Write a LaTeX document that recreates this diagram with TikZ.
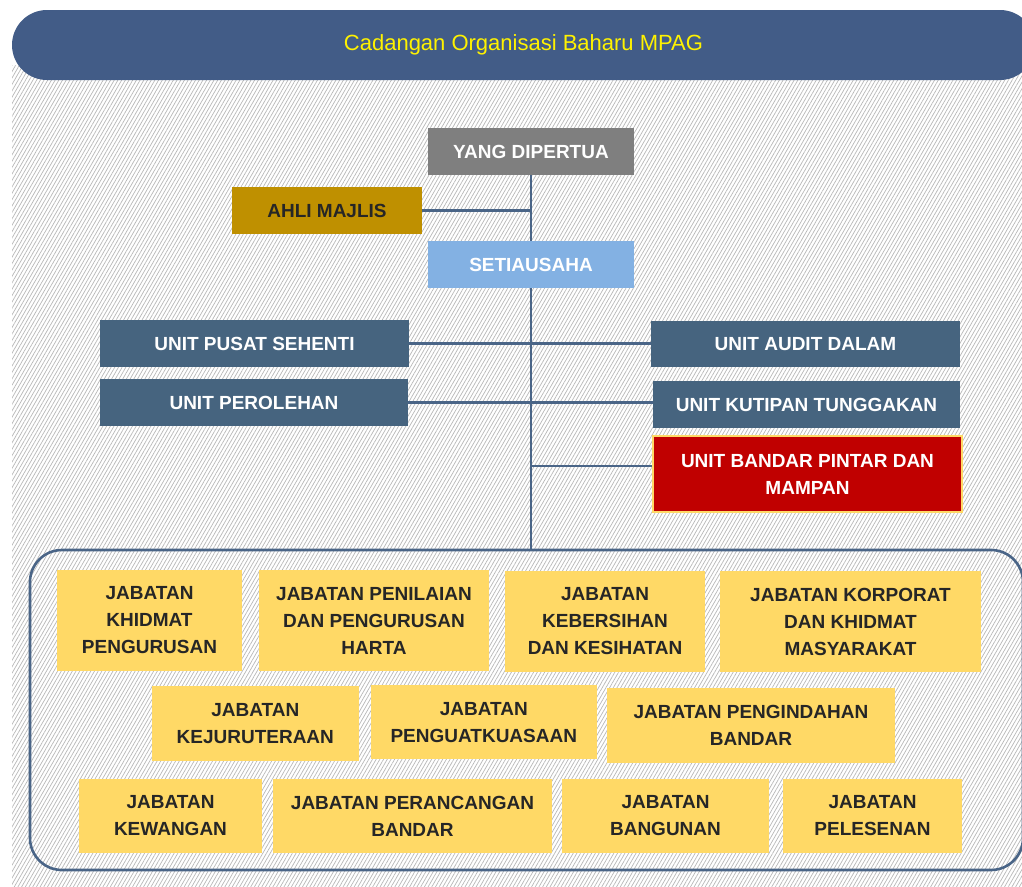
\documentclass[tikz,border=0pt]{standalone}
\usepackage{fontspec}
\setmainfont{Liberation Sans}
\usetikzlibrary{patterns.meta}
\definecolor{barblue}{HTML}{425C87}
\definecolor{unitblue}{HTML}{46647F}
\definecolor{linkblue}{HTML}{4A6587}
\definecolor{headgray}{HTML}{7F7F7F}
\definecolor{gold}{HTML}{BF9000}
\definecolor{sky}{HTML}{83B1E3}
\definecolor{alert}{HTML}{C00000}
\definecolor{sun}{HTML}{FFD966}
\definecolor{ink}{HTML}{262626}
\tikzset{
  box/.style={inner sep=0pt, align=center, font=\fontsize{19}{27}\selectfont\bfseries},
  sz/.style 2 args={minimum width=#1pt, minimum height=#2pt},
  unit/.style={box, fill=unitblue, text=white},
  dept/.style={box, fill=sun, text=ink},
  link/.style={draw=linkblue, line width=2.6pt},
}
\begin{document}
\begin{tikzpicture}[x=1pt, y=-1pt]
  \clip (0,0) rectangle (1022,886);
  \fill[white] (0,0) rectangle (1022,886);
  \fill[pattern={Lines[angle=60,distance=3.2pt,line width=0.7pt]}, pattern color=black!28]
    (12,65) rectangle (1022,886);
  \node[fill=barblue, rounded corners=35pt, sz={1023}{70}, text=yellow,
    font=\fontsize{22}{26}\selectfont] (title) at (523.5,45) {Cadangan Organisasi Baharu MPAG};

  % pucuk pimpinan
  \node[box, fill=headgray, text=white, sz={206}{47}] (ydp) at (531,151.5) {YANG DIPERTUA};
  \node[box, fill=gold, text=ink, sz={190}{47}] (ahli) at (327,210.5) {AHLI MAJLIS};
  \node[box, fill=sky, text=white, sz={206}{47}] (sec) at (531,264.5) {SETIAUSAHA};

  % unit
  \node[unit, sz={309}{47}] (ups) at (254.5,343.5) {UNIT PUSAT SEHENTI};
  \node[unit, sz={309}{46}] (uad) at (805.5,344) {UNIT AUDIT DALAM};
  \node[unit, sz={308}{47}] (upl) at (254,402.5) {UNIT PEROLEHAN};
  \node[unit, sz={307}{47}] (ukt) at (806.5,404.5) {UNIT KUTIPAN TUNGGAKAN};
  \node[box, fill=alert, text=white, draw=sun, line width=2.4pt, sz={309}{76}] (ubp)
    at (807.5,474) {UNIT BANDAR PINTAR DAN\\MAMPAN};

  % jabatan
  \node[draw=linkblue, line width=2.6pt, rounded corners=32pt, sz={993}{320}] (jab) at (526.5,710) {};
  \node[dept, sz={185}{101}] (jkp) at (149.5,620.5) {JABATAN\\KHIDMAT\\PENGURUSAN};
  \node[dept, sz={230}{101}] (jpp) at (374,620.5) {JABATAN PENILAIAN\\DAN PENGURUSAN\\HARTA};
  \node[dept, sz={200}{101}] (jkk) at (605,621.5) {JABATAN\\KEBERSIHAN\\DAN KESIHATAN};
  \node[dept, sz={261}{101}] (jkm) at (850.5,621.5) {JABATAN KORPORAT\\DAN KHIDMAT\\MASYARAKAT};
  \node[dept, sz={207}{75}] (jkj) at (255.3,723.2) {JABATAN\\KEJURUTERAAN};
  \node[dept, sz={226}{74}] (jpk) at (483.8,722.2) {JABATAN\\PENGUATKUASAAN};
  \node[dept, sz={288}{75}] (jpb) at (751,725.3) {JABATAN PENGINDAHAN\\BANDAR};
  \node[dept, sz={183}{74}] (jkw) at (170.5,816) {JABATAN\\KEWANGAN};
  \node[dept, sz={279}{74}] (jpr) at (412.5,816) {JABATAN PERANCANGAN\\BANDAR};
  \node[dept, sz={207}{74}] (jbg) at (665.5,816) {JABATAN\\BANGUNAN};
  \node[dept, sz={179}{74}] (jpl) at (872.5,816) {JABATAN\\PELESENAN};

  % garis
  \draw[link] (ydp) -- (sec);
  \draw[link] (ahli.east) -- (ahli.east -| ydp.south);
  \draw[link] (sec) -- (sec.south |- jab.north);
  \draw[link] (ups.east) -- (ups.east -| uad.west);
  \draw[link] (upl.east) -- (upl.east -| ukt.west);
  \draw[link] ([yshift=8pt]ubp.west) -- ([yshift=8pt]ubp.west -| sec.south);
\end{tikzpicture}
\end{document}
